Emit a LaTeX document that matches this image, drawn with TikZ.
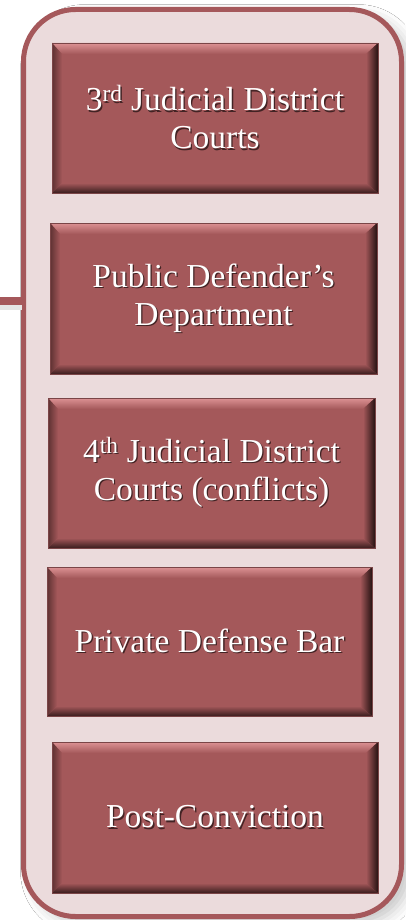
\documentclass[tikz,border=0pt]{standalone}
\usepackage{fontspec}
\setmainfont{Liberation Serif}
\usetikzlibrary{shadows.blur}
\definecolor{boxfill}{HTML}{A4585A}
\definecolor{boxedge}{HTML}{7A4547}
\definecolor{outerfill}{HTML}{EBDBDC}
\definecolor{outerline}{HTML}{A5585B}
\definecolor{bevtop}{HTML}{DC9294}
\definecolor{bevleft}{HTML}{5E3132}
\definecolor{bevright}{HTML}{261212}
\definecolor{bevbot}{HTML}{3A1D1E}
\newcommand\shtxt[1]{\leavevmode\rlap{\hspace{1.3pt}\raisebox{-1.3pt}{\color{black!60!boxfill}#1}}#1}
\tikzset{
  outerbox/.style={rectangle, rounded corners=52pt, fill=outerfill, draw=outerline, line width=5pt,
    blur shadow={shadow xshift=9pt, shadow yshift=-7pt, shadow blur radius=12pt, shadow opacity=22}},
  conn/.style={draw=outerline, line width=8pt},
  bevbox/.style={rectangle, fill=boxfill, draw=boxedge, line width=0.6pt, inner sep=0pt,
    minimum width=326pt, minimum height=150pt, align=center, text=white,
    font=\fontsize{33.5}{38}\selectfont,
    path picture={
      \path (path picture bounding box.south west) coordinate (pA)
            (path picture bounding box.south east) coordinate (pB)
            (path picture bounding box.north east) coordinate (pC)
            (path picture bounding box.north west) coordinate (pD);
      \path ([shift={(10pt,10pt)}]pA) coordinate (iA)
            ([shift={(-12pt,10pt)}]pB) coordinate (iB)
            ([shift={(-12pt,-11pt)}]pC) coordinate (iC)
            ([shift={(10pt,-11pt)}]pD) coordinate (iD);
      \shade[top color=bevtop, bottom color=boxfill] (pD) -- (pC) -- (iC) -- (iD) -- cycle;
      \shade[left color=bevleft, right color=boxfill] (pA) -- (pD) -- (iD) -- (iA) -- cycle;
      \shade[right color=bevright, left color=boxfill] (pB) -- (pC) -- (iC) -- (iB) -- cycle;
      \shade[bottom color=bevbot, top color=boxfill] (pA) -- (pB) -- (iB) -- (iA) -- cycle;
    }}
}
\begin{document}
\begin{tikzpicture}[x=1pt,y=-1pt]
\useasboundingbox[fill=white] (0,0) rectangle (405,920);
\node[outerbox, minimum width=378pt, minimum height=907pt] (outer) at (212.5,463) {};
\coordinate (cl) at (0,301);
\fill[black!10] (0,305) rectangle (22,310);
\path[conn] (cl) -- (cl -| outer.west);
\node[bevbox, minimum width=326pt, minimum height=150pt] (b1) at (215,118)
  {\shtxt{3\textsuperscript{rd} Judicial District}\\\shtxt{Courts}};
\node[bevbox, minimum width=327pt, minimum height=151pt] (b2) at (213.5,298.5)
  {\shtxt{Public Defender’s}\\\shtxt{Department}};
\node[bevbox, minimum width=327pt, minimum height=150pt] (b3) at (211.5,473)
  {\shtxt{4\textsuperscript{th} Judicial District}\\\shtxt{Courts (conflicts)}};
\node[bevbox, minimum width=325pt, minimum height=149pt] (b4) at (209.5,641.5)
  {\shtxt{Private Defense Bar}};
\node[bevbox, minimum width=326pt, minimum height=151pt] (b5) at (215,817.5)
  {\shtxt{Post-Conviction}};
\end{tikzpicture}
\end{document}
